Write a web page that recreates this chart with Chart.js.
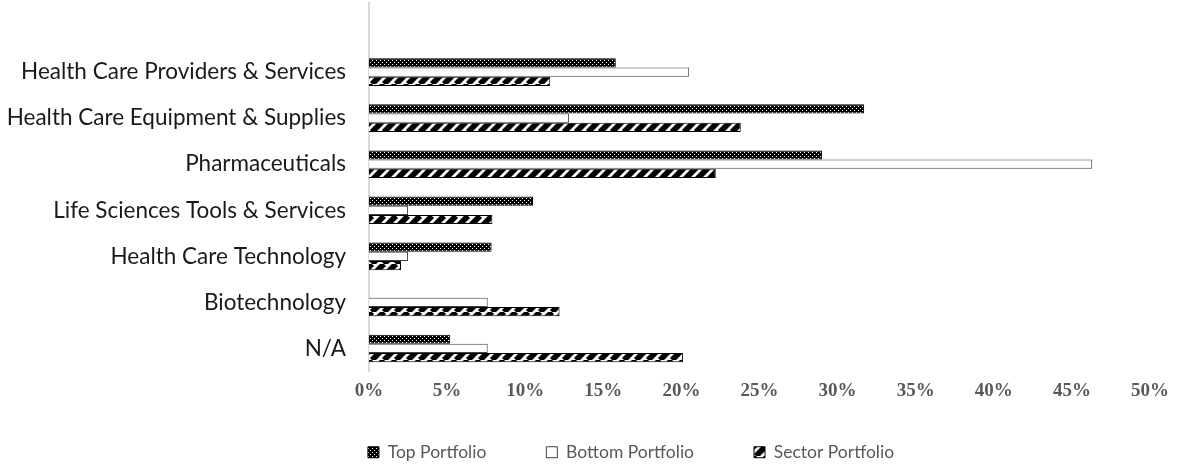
<!DOCTYPE html>
<html>
<head>
<meta charset="utf-8">
<script src="https://cdn.jsdelivr.net/npm/chart.js@4"></script>
<style>
    html, body { margin: 0; padding: 0; background: #fff; }
    #wrap { width: 1177px; height: 468px; }
</style>
</head>
<body>
<div id="wrap"><canvas id="barchart"></canvas></div>
<script>
// top slot is left blank on purpose, like the original layout
const industries = [
    '',
    'Health Care Providers & Services',
    'Health Care Equipment & Supplies',
    'Pharmaceuticals',
    'Life Sciences Tools & Services',
    'Health Care Technology',
    'Biotechnology',
    'N/A'
];

const topPortfolio    = [null, 15.8, 31.7, 29.0, 10.5, 7.85, 0, 5.2];
const bottomPortfolio = [null, 20.5, 12.8, 46.3, 2.5, 2.5, 7.6, 7.6];
const sectorPortfolio = [null, 11.6, 23.8, 22.2, 7.9, 2.05, 12.2, 20.1];

const percentTicks = [0, 5, 10, 15, 20, 25, 30, 35, 40, 45, 50];

function dotPattern(ctx) {
    const c = document.createElement('canvas');
    c.width = 4;
    c.height = 4;
    const g = c.getContext('2d');
    g.fillStyle = '#000';
    g.fillRect(0, 0, 4, 4);
    g.fillStyle = '#fff';
    g.fillRect(0, 0, 1, 1);
    g.fillRect(2, 2, 1, 1);
    return ctx.createPattern(c, 'repeat');
}

function stripePattern(ctx) {
    const s = 12;
    const c = document.createElement('canvas');
    c.width = s;
    c.height = s;
    const g = c.getContext('2d');
    g.fillStyle = '#fff';
    g.fillRect(0, 0, s, s);
    g.strokeStyle = '#000';
    g.lineWidth = 5.8;
    g.beginPath();
    for (let k = -1; k <= 1; k++) {
        g.moveTo(k * s, s);
        g.lineTo(k * s + s, 0);
    }
    g.stroke();
    return ctx.createPattern(c, 'repeat');
}

// nudge the legend under the plot instead of the whole canvas
const legendOffset = {
    id: 'legendOffset',
    afterLayout(chart) {
        const legend = chart.legend;
        legend.left += 56;
        legend.right += 56;
        legend.top -= 16;
        legend.bottom -= 16;
    }
};

function createPortfolioChart() {
    const ctx = document.querySelector('#barchart').getContext('2d');

    const configuration = {
        type: 'bar',
        data: {
            labels: industries,
            datasets: [
                {
                    label: 'Top Portfolio',
                    data: topPortfolio,
                    backgroundColor: dotPattern(ctx),
                    borderColor: '#000',
                    borderWidth: 1
                },
                {
                    label: 'Bottom Portfolio',
                    data: bottomPortfolio,
                    backgroundColor: '#fff',
                    borderColor: '#404040',
                    borderWidth: 1
                },
                {
                    label: 'Sector Portfolio',
                    data: sectorPortfolio,
                    backgroundColor: stripePattern(ctx),
                    borderColor: '#000',
                    borderWidth: 1
                }
            ]
        },
        plugins: [legendOffset],
        options: {
            indexAxis: 'y',
            responsive: true,
            maintainAspectRatio: false,
            animation: false,
            categoryPercentage: 0.6,
            barPercentage: 1.0,
            layout: {
                padding: { left: 0, right: 27, top: 3, bottom: -19 }
            },
            plugins: {
                legend: {
                    position: 'bottom',
                    labels: {
                        boxWidth: 11,
                        boxHeight: 11,
                        padding: 60,
                        color: '#595959',
                        font: { family: 'Lato', size: 17.5 }
                    }
                },
                tooltip: {
                    enabled: false
                }
            },
            scales: {
                x: {
                    min: 0,
                    max: 50,
                    afterBuildTicks: function(axis) {
                        axis.ticks = percentTicks.map(v => ({ value: v }));
                    },
                    grid: { display: false },
                    border: { display: false },
                    ticks: {
                        padding: 0,
                        color: '#595959',
                        font: { family: 'Liberation Serif', size: 19, weight: 'bold' },
                        callback: function(value) {
                            return value + '%';
                        }
                    },
                    afterFit: function(axis) {
                        axis.height = 28;
                    }
                },
                y: {
                    grid: { display: false },
                    border: { display: true, color: '#d9d9d9', width: 2 },
                    ticks: {
                        padding: 15,
                        color: '#1a1a1a',
                        font: { family: 'Lato', size: 22.5 }
                    },
                    afterFit: function(axis) {
                        axis.width = 369;
                        axis.paddingTop = 0;
                        axis.paddingBottom = 0;
                    }
                }
            }
        }
    };

    new Chart(ctx, configuration);
}

createPortfolioChart();
</script>
</body>
</html>
